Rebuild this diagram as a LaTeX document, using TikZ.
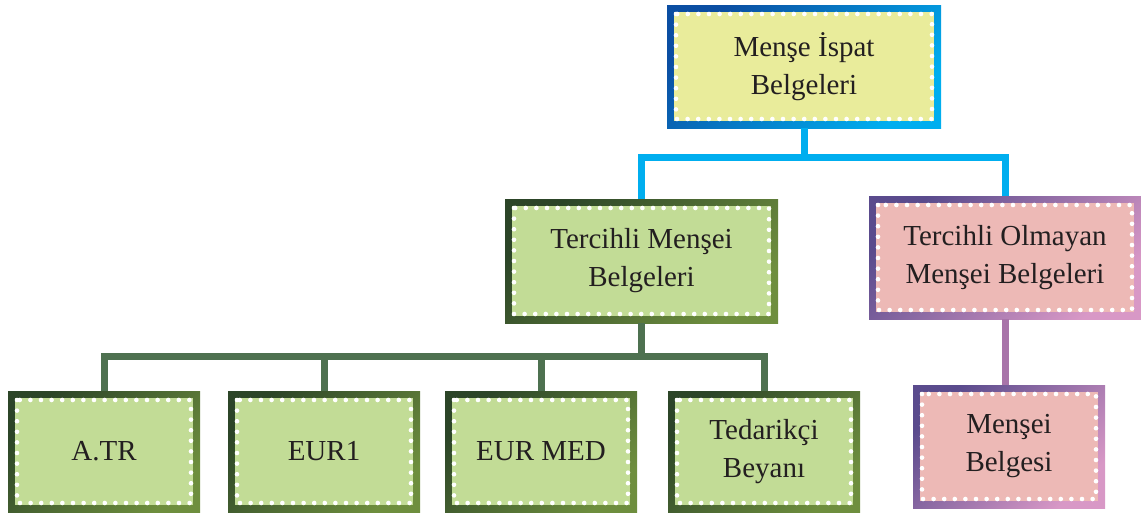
\documentclass[tikz,border=0pt]{standalone}
\usepackage{fontspec}
\setmainfont{Liberation Serif}
\definecolor{textgray}{HTML}{231F20}
\definecolor{blueA}{HTML}{0B4EA2}
\definecolor{blueB}{HTML}{00AEEF}
\definecolor{yellowfill}{HTML}{E9EC9B}
\definecolor{greenA}{HTML}{2C4528}
\definecolor{greenB}{HTML}{6E8E3E}
\definecolor{greenfill}{HTML}{C2DC96}
\definecolor{greenlink}{HTML}{4E7150}
\definecolor{purpleA}{HTML}{5A4B8D}
\definecolor{purpleB}{HTML}{D898C6}
\definecolor{pinkfill}{HTML}{EDB9B6}
\definecolor{purplelink}{HTML}{A874A9}
\newcommand{\stampframe}[1]{%
  \fill[#1] ([shift={(7pt,-7pt)}]path picture bounding box.north west)
    rectangle ([shift={(-7pt,7pt)}]path picture bounding box.south east);
  \draw[white,line width=4.6pt,line cap=round,dash pattern=on 0pt off 10.6pt]
    ([shift={(9pt,-9pt)}]path picture bounding box.north west)
    rectangle ([shift={(-9pt,9pt)}]path picture bounding box.south east);}
\tikzset{
  x=1pt,
  y=-1pt,
}
\tikzstyle{stamp}=[inner sep=0pt,align=center,text=textgray,
  font=\fontsize{29}{38}\selectfont]
\tikzstyle{bluebox}=[stamp,left color=blueA,right color=blueB,shading angle=45,
  path picture={\stampframe{yellowfill}}]
\tikzstyle{greenbox}=[stamp,left color=greenA,right color=greenB,shading angle=45,
  path picture={\stampframe{greenfill}}]
\tikzstyle{pinkbox}=[stamp,left color=purpleA,right color=purpleB,shading angle=45,
  path picture={\stampframe{pinkfill}}]
\tikzstyle{link}=[line width=7pt]

\begin{document}
\begin{tikzpicture}
  \useasboundingbox (0,0) rectangle (1141,512);

  \node[bluebox,minimum width=274pt,minimum height=123pt] (ispat) at (804,66.5)
    {Menşe İspat\\Belgeleri};
  \node[greenbox,minimum width=273pt,minimum height=124pt] (tercihli) at (641.5,261)
    {Tercihli Menşei\\Belgeleri};
  \node[pinkbox,minimum width=272pt,minimum height=123pt] (olmayan) at (1005,257.5)
    {Tercihli Olmayan\\Menşei Belgeleri};

  \node[greenbox,minimum width=192pt,minimum height=121pt] (atr) at (104,451.5) {A.TR};
  \node[greenbox,minimum width=192pt,minimum height=121pt] (eurone) at (324,451.5) {EUR1};
  \node[greenbox,minimum width=192pt,minimum height=121pt] (eurmed) at (541,451.5) {EUR MED};
  \node[greenbox,minimum width=192pt,minimum height=121pt] (tedarik) at (764,451.5)
    {Tedarikçi\\Beyanı};
  \node[pinkbox,minimum width=192pt,minimum height=123pt] (belgesi) at (1009,446.5)
    {Menşei\\Belgesi};

  \coordinate (bsplit) at (804,157);
  \coordinate (gsplit) at (641.5,356);
  \draw[link,blueB] (ispat.south) -- (bsplit);
  \draw[link,blueB] (tercihli.north) |- (bsplit) -| (olmayan.north);
  \draw[link,greenlink] (tercihli.south) -- (gsplit);
  \draw[link,greenlink] (atr.north) |- (gsplit) -| (tedarik.north);
  \draw[link,greenlink] (eurone.north) -- (eurone.north |- gsplit);
  \draw[link,greenlink] (eurmed.north) -- (eurmed.north |- gsplit);
  \draw[link,purplelink] (olmayan.south) -- (olmayan.south |- belgesi.north);
\end{tikzpicture}
\end{document}
